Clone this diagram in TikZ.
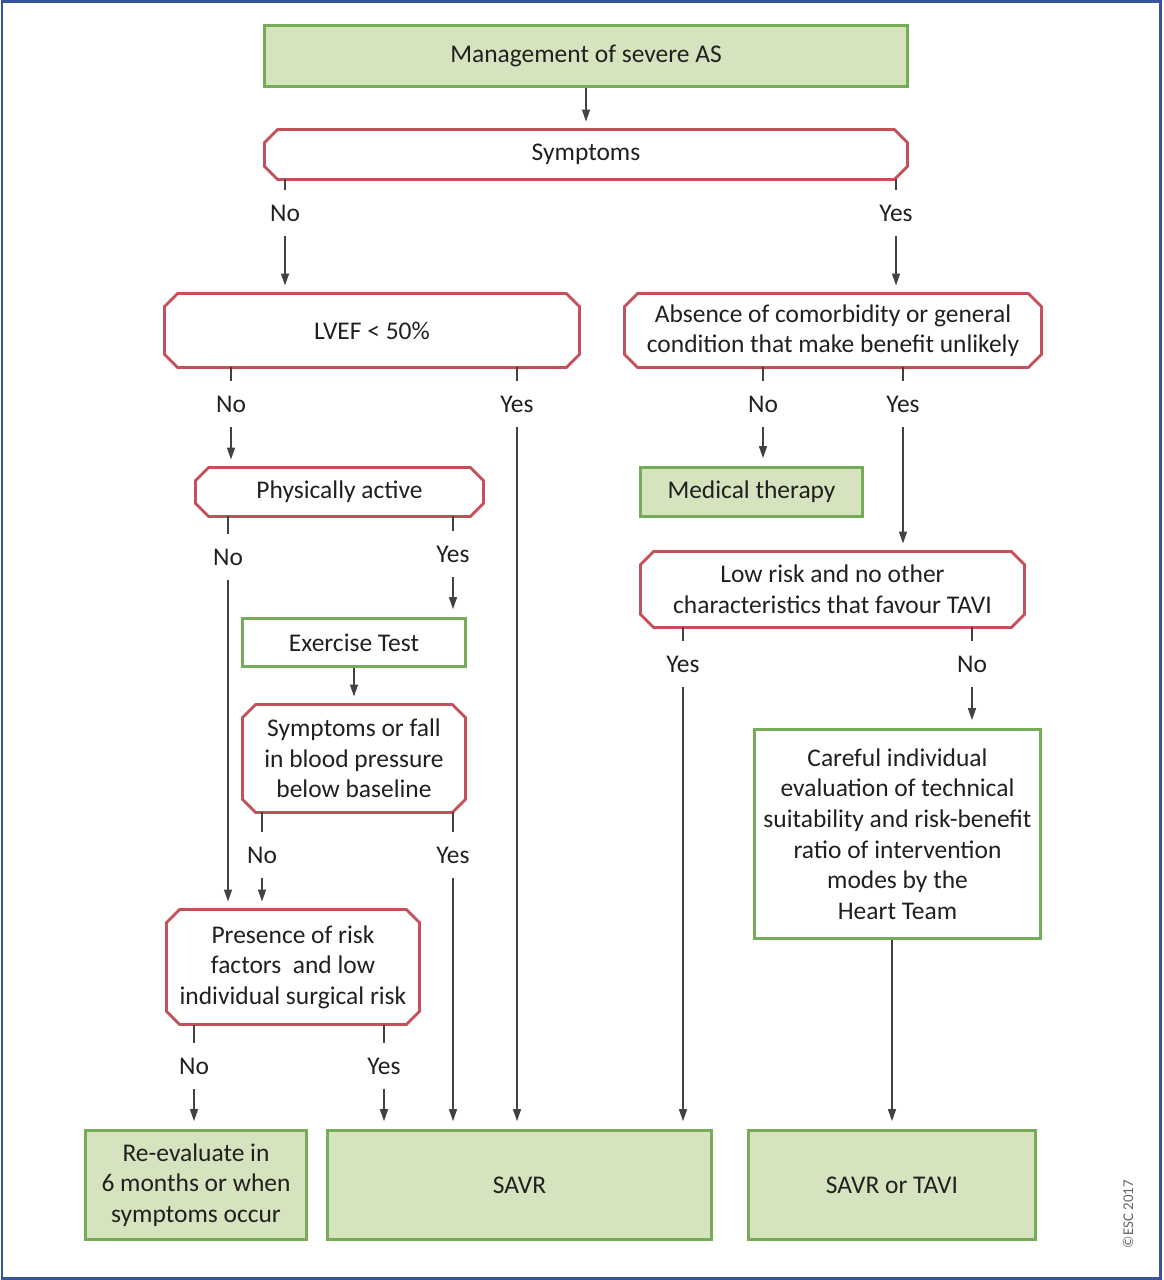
\documentclass[tikz,border=0pt]{standalone}
\usepackage{fontspec}
\setmainfont{Carlito}
\usetikzlibrary{arrows.meta}
\definecolor{boxgreen}{HTML}{D5E4BF}
\definecolor{linegreen}{HTML}{76AC57}
\definecolor{linered}{HTML}{C4505A}
\definecolor{frameblue}{HTML}{35549A}
\definecolor{ink}{HTML}{231F20}
\begin{document}
\begin{tikzpicture}[x=0.02cm,y=-0.02cm,
    font=\fontsize{14.5}{17.4}\selectfont, text=ink,
    greenbox/.style={draw=linegreen, fill=boxgreen, line width=1.6pt, align=center, inner sep=0pt},
    whitebox/.style={draw=linegreen, fill=white, line width=1.6pt, align=center, inner sep=0pt},
    redbox/.style={align=center, inner sep=0pt, outer sep=0pt},
    redline/.style={draw=linered, line width=1.6pt, line join=miter},
    answer/.style={inner sep=0pt, minimum height=0.9cm},
    link/.style={draw=ink!85, line width=0.8pt},
    arrow/.style={link, -{Triangle[length=0.24cm,width=0.16cm]}, shorten >=0.16cm}]

      \useasboundingbox (0,0) rectangle (1163,1280);
      \draw[frameblue, line width=1.7pt] (2,1.5) rectangle (1160,1278.5);

      \node[greenbox, minimum width=12.86cm, minimum height=1.22cm] (top) at (586,56) {Management of severe AS};
      \node[redbox, minimum width=12.86cm, minimum height=1.0cm] (symp) at (586,154.5) {Symptoms};
      \node[redbox, minimum width=8.3cm, minimum height=1.48cm] (lvef) at (372,330.5) {LVEF < 50\%};
      \node[redbox, minimum width=8.34cm, minimum height=1.48cm] (absn) at (833,330.5)
        {Absence of comorbidity or general\\condition that make benefit unlikely};
      \node[redbox, minimum width=5.76cm, minimum height=0.98cm] (phys) at (339.5,492) {Physically active};
      \node[greenbox, minimum width=4.44cm, minimum height=0.98cm] (med) at (751.5,492) {Medical therapy};
      \node[whitebox, minimum width=4.46cm, minimum height=0.96cm] (exer) at (354,642.5) {Exercise Test};
      \node[redbox, minimum width=4.46cm, minimum height=2.16cm] (fall) at (354,758.5)
        {Symptoms or fall\\in blood pressure\\below baseline};
      \node[redbox, minimum width=7.68cm, minimum height=1.52cm] (low) at (832.5,589.5)
        {Low risk and no other\\characteristics that favour TAVI};
      \node[whitebox, minimum width=5.72cm, minimum height=4.18cm] (care) at (897.5,834)
        {Careful individual\\evaluation of technical\\suitability and risk-benefit\\ratio of intervention\\modes by the\\Heart Team};
      \node[redbox, minimum width=5.06cm, minimum height=2.3cm] (pres) at (293,967)
        {Presence of risk\\factors~ and low\\individual surgical risk};
      \node[greenbox, minimum width=4.42cm, minimum height=2.18cm] (reev) at (196,1185)
        {Re-evaluate in\\6 months or when\\symptoms occur};
      \node[greenbox, minimum width=7.68cm, minimum height=2.18cm] (savr) at (519.5,1185) {SAVR};
      \node[greenbox, minimum width=5.74cm, minimum height=2.18cm] (both) at (892,1185) {SAVR or TAVI};

      \foreach \n in {symp,lvef,absn,phys,fall,low,pres}
        \draw[redline] ([xshift=0.26cm]\n.north west) -- ([xshift=-0.26cm]\n.north east)
          -- ([yshift=-0.26cm]\n.north east) -- ([yshift=0.26cm]\n.south east)
          -- ([xshift=-0.26cm]\n.south east) -- ([xshift=0.26cm]\n.south west)
          -- ([yshift=0.26cm]\n.south west) -- ([yshift=-0.26cm]\n.north west) -- cycle;

      \begin{scope}[every node/.style={answer}]
        \node (sno)  at (285,213)  {No};
        \node (syes) at (896,213)  {Yes};
        \node (lno)  at (231,404)  {No};
        \node (lyes) at (517,404)  {Yes};
        \node (ano)  at (763,404)  {No};
        \node (ayes) at (903,404)  {Yes};
        \node (pno)  at (228,557)  {No};
        \node (pyes) at (453,554)  {Yes};
        \node (fno)  at (262,855)  {No};
        \node (fyes) at (453,855)  {Yes};
        \node (wyes) at (683,664)  {Yes};
        \node (wno)  at (972,664)  {No};
        \node (rno)  at (194,1066) {No};
        \node (ryes) at (384,1066) {Yes};
      \end{scope}

      \node[rotate=90, font=\fontsize{8.5}{10}\selectfont, text=ink!70] (esc) at (1128,1214) {\textcopyright ESC 2017};

      \path (top) edge[arrow] (symp);
      \path (symp.south -| sno) edge[link] (sno)  (sno) edge[arrow] (lvef.north -| sno);
      \path (symp.south -| syes) edge[link] (syes)  (syes) edge[arrow] (absn.north -| syes);
      \path (lvef.south -| lno) edge[link] (lno)  (lno) edge[arrow] (phys.north -| lno);
      \path (lvef.south -| lyes) edge[link] (lyes)  (lyes) edge[arrow] (savr.north -| lyes);
      \path (absn.south -| ano) edge[link] (ano)  (ano) edge[arrow] (med.north -| ano);
      \path (absn.south -| ayes) edge[link] (ayes)  (ayes) edge[arrow] (low.north -| ayes);
      \path (phys.south -| pno) edge[link] (pno)  (pno) edge[arrow] (pres.north -| pno);
      \path (phys.south -| pyes) edge[link] (pyes)  (pyes) edge[arrow] (exer.north -| pyes);
      \path (exer) edge[arrow] (fall);
      \path (fall.south -| fno) edge[link] (fno)  (fno) edge[arrow] (pres.north -| fno);
      \path (fall.south -| fyes) edge[link] (fyes)  (fyes) edge[arrow] (savr.north -| fyes);
      \path (low.south -| wyes) edge[link] (wyes)  (wyes) edge[arrow] (savr.north -| wyes);
      \path (low.south -| wno) edge[link] (wno)  (wno) edge[arrow] (care.north -| wno);
      \path (care.south -| both) edge[arrow] (both);
      \path (pres.south -| rno) edge[link] (rno)  (rno) edge[arrow] (reev.north -| rno);
      \path (pres.south -| ryes) edge[link] (ryes)  (ryes) edge[arrow] (savr.north -| ryes);

    \end{tikzpicture}
\end{document}
